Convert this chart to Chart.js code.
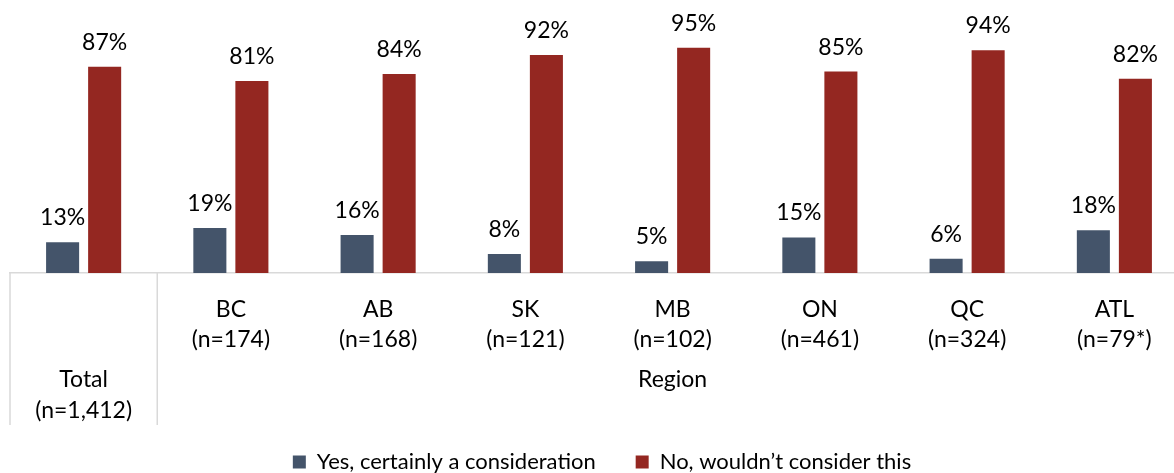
<!DOCTYPE html>
<html>
<head>
<meta charset="utf-8">
<script src="https://cdn.jsdelivr.net/npm/chart.js@4"></script>
<style>
    html, body { margin: 0; padding: 0; overflow: hidden; background: #fff; }
    #wrap { width: 1206px; height: 473px; }
</style>
</head>
<body>
<div id="wrap"><canvas id="chart" width="1206" height="473"></canvas></div>
<script>
const categories = ['Total', 'BC', 'AB', 'SK', 'MB', 'ON', 'QC', 'ATL'];
const sampleSizes = ['(n=1,412)', '(n=174)', '(n=168)', '(n=121)', '(n=102)', '(n=461)', '(n=324)', '(n=79*)'];
const groupLabel = 'Region';
const seriesNames = ['Yes, certainly a consideration', 'No, wouldn\u2019t consider this'];
const yesValues = [13, 19, 16, 8, 5, 15, 6, 18];
const noValues = [87, 81, 84, 92, 95, 85, 94, 82];

const FONT = 'Lato, "Open Sans", sans-serif';
const BLUE = '#44546a';
const RED = '#942721';
const LINE = '#d9d9d9';

// legend sits low with a fixed-size box
const legendPlace = {
    id: 'legendPlace',
    beforeLayout(chart) {
        const lg = chart.legend;
        if (!lg || lg._patched) return;
        const fit = lg.fit;
        lg.fit = function () {
            fit.call(this);
            this.height = 48;
        };
        lg._patched = true;
    },
    afterLayout(chart) {
        const lg = chart.legend;
        const pad = lg.options.labels.padding;
        lg.top = 451 - pad;
        lg.left += 3;
        lg.right += 3;
    }
};

const valueLabels = {
    id: 'valueLabels',
    afterDatasetsDraw(chart) {
        const ctx = chart.ctx;
        ctx.save();
        ctx.font = '23px ' + FONT;
        ctx.fillStyle = '#000';
        ctx.textAlign = 'center';
        ctx.textBaseline = 'alphabetic';
        chart.data.datasets.forEach((ds, di) => {
            chart.getDatasetMeta(di).data.forEach((bar, i) => {
                ctx.fillText(ds.data[i] + '%', bar.x, bar.y - 17);
            });
        });
        ctx.restore();
    }
};

// separator lines + the Total / Region labels under the axis
const tableAxis = {
    id: 'tableAxis',
    afterDraw(chart) {
        const ctx = chart.ctx;
        const x = chart.scales.x;
        const step = x.getPixelForValue(1) - x.getPixelForValue(0);
        const split = x.getPixelForValue(0) + step / 2;
        ctx.save();
        ctx.strokeStyle = LINE;
        ctx.lineWidth = 1.5;
        [x.left, split, x.right].forEach(px => {
            ctx.beginPath();
            ctx.moveTo(px, x.top);
            ctx.lineTo(px, x.bottom);
            ctx.stroke();
        });
        ctx.font = '23px ' + FONT;
        ctx.fillStyle = '#000';
        ctx.textAlign = 'center';
        ctx.textBaseline = 'middle';
        const totalX = x.getPixelForValue(0);
        ctx.fillText(categories[0], totalX, x.top + 107);
        ctx.fillText(sampleSizes[0], totalX, x.top + 138);
        ctx.fillText(groupLabel, (split + x.right) / 2, x.top + 107);
        ctx.restore();
    }
};

new Chart(document.getElementById('chart').getContext('2d'), {
    type: 'bar',
    data: {
        labels: categories,
        datasets: [
            { label: seriesNames[0], data: yesValues, backgroundColor: BLUE },
            { label: seriesNames[1], data: noValues, backgroundColor: RED }
        ]
    },
    options: {
        responsive: false,
        animation: false,
        barPercentage: 0.786,
        categoryPercentage: 0.571,
        layout: { padding: { top: 36, left: 10, right: 18, bottom: 0 } },
        plugins: {
            legend: {
                position: 'bottom',
                labels: {
                    boxWidth: 13,
                    boxHeight: 13,
                    padding: 40,
                    color: '#000',
                    font: { family: FONT, size: 22 }
                }
            },
            tooltip: { enabled: false }
        },
        scales: {
            x: {
                grid: { display: false },
                border: { display: true, color: LINE, width: 1.5 },
                afterFit: scale => { scale.height = 152; },
                ticks: {
                    maxRotation: 0,
                    autoSkip: false,
                    padding: 14,
                    color: '#000',
                    font: { family: FONT, size: 23, lineHeight: 1.3 },
                    callback: (v, i) => i === 0 ? '' : [categories[i], sampleSizes[i]]
                }
            },
            y: { display: false, min: 0, max: 100 }
        }
    },
    plugins: [legendPlace, valueLabels, tableAxis]
});
</script>
</body>
</html>
